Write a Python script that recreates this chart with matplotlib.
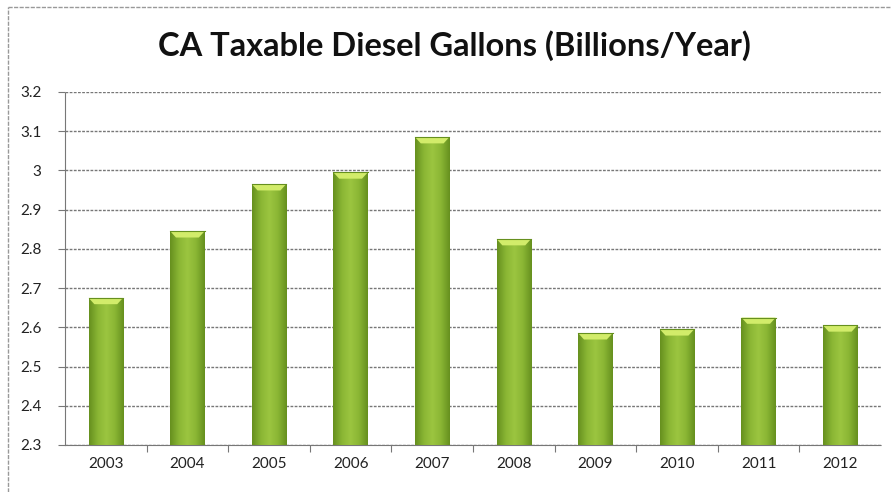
import numpy as np
import matplotlib.pyplot as plt
from matplotlib.colors import LinearSegmentedColormap
from matplotlib.lines import Line2D

years = ['2003', '2004', '2005', '2006', '2007', '2008', '2009', '2010', '2011', '2012']
gallons = [2.675, 2.845, 2.965, 2.995, 3.085, 2.825, 2.585, 2.595, 2.625, 2.605]
y_ticks = [2.3, 2.4, 2.5, 2.6, 2.7, 2.8, 2.9, 3.0, 3.1, 3.2]
y_labels = ['2.3', '2.4', '2.5', '2.6', '2.7', '2.8', '2.9', '3', '3.1', '3.2']

plt.rcParams['font.family'] = ['Lato', 'DejaVu Sans']

fig = plt.figure(figsize=(8.93, 4.92), dpi=100)
ax = fig.add_axes([65 / 893, 1 - 445 / 492, (881 - 65) / 893, (445 - 92) / 492])

x = np.arange(len(years))
width = 0.42
ymin, ymax = 2.3, 3.2

# horizontal shading: dark edges, lighter middle
side = LinearSegmentedColormap.from_list('side', ['#66901f', '#8ab634', '#9cc540', '#8ab634', '#66901f'])
grad = np.linspace(0, 1, 64).reshape(1, -1)

bars = ax.bar(x, gallons, width, bottom=0, color='#8cb838', zorder=3)
for b, v in zip(bars, gallons):
    x0 = b.get_x()
    im = ax.imshow(grad, cmap=side, aspect='auto', extent=(x0, x0 + width, ymin, v),
                   zorder=3, interpolation='bicubic')
    im.set_clip_path(b)
    # light bevel on the top of each bar
    bev = 0.016
    ax.fill([x0, x0 + width, x0 + width - 0.07, x0 + 0.07], [v, v, v - bev, v - bev],
            color='#d2ec6a', zorder=4, lw=0)
    ax.plot([x0, x0 + width], [v, v], color='#66901f', lw=0.8, zorder=4)

ax.set_xlim(-0.5, len(years) - 0.5)
ax.set_ylim(ymin, ymax)
ax.set_yticks(y_ticks)
ax.set_yticklabels(y_labels, fontsize=11, color='#222222')
ax.set_xticks(x)
ax.set_xticklabels(years, fontsize=11, color='#222222')
ax.tick_params(axis='x', length=0, pad=9)
ax.tick_params(axis='y', length=5, width=0.8, color='#777777', pad=12)
ax.set_xticks(np.arange(0.5, len(years) - 0.5, 1), minor=True)
ax.tick_params(axis='x', which='minor', length=5, width=0.8, color='#777777')

ax.grid(axis='y', color='#777777', ls=(0, (2, 1)), lw=1.0, zorder=1)
for s in ['top', 'right']:
    ax.spines[s].set_visible(False)
ax.spines['left'].set_color('#777777')
ax.spines['left'].set_linestyle((0, (2, 1)))
ax.spines['bottom'].set_color('#777777')
ax.spines['bottom'].set_linestyle((0, (2, 1)))

fig.text(454 / 893, 1 - 46 / 492, 'CA Taxable Diesel Gallons (Billions/Year)',
         ha='center', va='center', fontsize=23.5, fontweight='bold', color='#111111')

# chart area border (top and left visible)
fig.add_artist(Line2D([8 / 893, 890 / 893], [1 - 7 / 492, 1 - 7 / 492], color='#999999',
                      lw=1, ls=(0, (3, 1))))
fig.add_artist(Line2D([8 / 893, 8 / 893], [0, 1 - 7 / 492], color='#999999',
                      lw=1, ls=(0, (3, 1))))

fig.savefig('out.png', dpi=100)
